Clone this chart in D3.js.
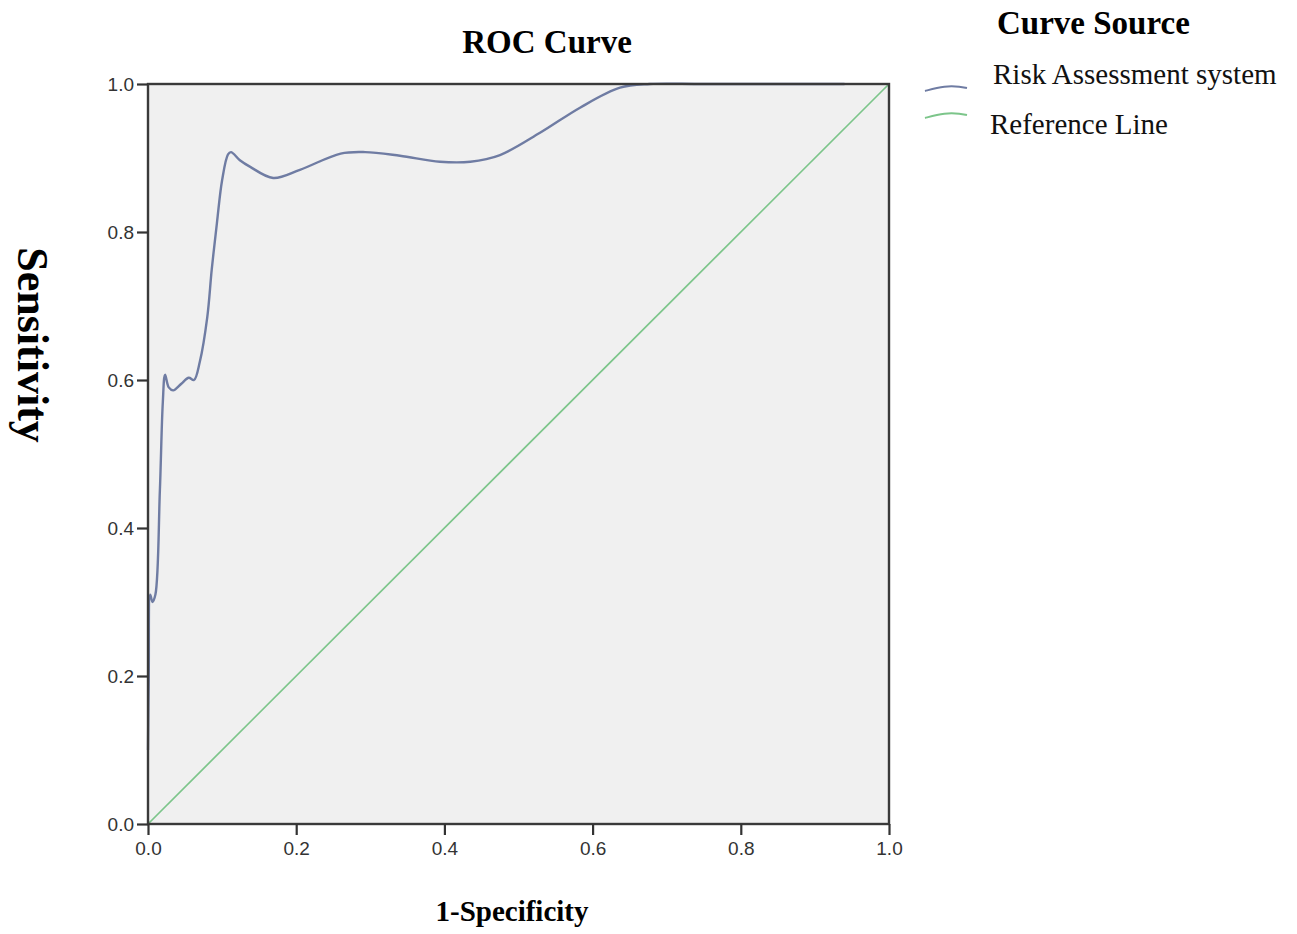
<!DOCTYPE html>
<html>
<head>
<meta charset="utf-8">
<script src="https://cdn.jsdelivr.net/npm/d3@7"></script>
<style>
  body { margin: 0; background: #fff; }
  svg { display: block; }
</style>
</head>
<body>
<svg id="chart" width="1297" height="934"></svg>
<script>
// --- data ---
const fpr = [0, 0.001, 0.003, 0.006, 0.010, 0.016, 0.020, 0.023, 0.028, 0.034, 0.045, 0.055, 0.062, 0.070,
  0.080, 0.086, 0.093, 0.100, 0.108, 0.112, 0.124, 0.138, 0.169, 0.205, 0.26, 0.293, 0.34, 0.394, 0.435,
  0.475, 0.529, 0.583, 0.637, 0.677, 0.75, 0.94];
const tpr = [0.10, 0.20, 0.31, 0.30, 0.31, 0.45, 0.57, 0.607, 0.59, 0.586, 0.595, 0.603, 0.600, 0.625,
  0.685, 0.749, 0.812, 0.87, 0.905, 0.908, 0.897, 0.888, 0.873, 0.884, 0.906, 0.908, 0.903, 0.895, 0.895,
  0.904, 0.934, 0.968, 0.995, 1.0, 1.0, 1.0];
const refX = [0, 1];
const refY = [0, 1];
const tickValues = [0, 0.2, 0.4, 0.6, 0.8, 1.0];
const legendItems = ["Risk Assessment system", "Reference Line"];
const legendColors = ["#6f7ca3", "#7cc58a"];

const svg = d3.select("#chart");
const margin = { left: 148, top: 84 };
const plotW = 741, plotH = 740;

const x = d3.scaleLinear().domain([0, 1]).range([margin.left, margin.left + plotW]);
const y = d3.scaleLinear().domain([0, 1]).range([margin.top + plotH, margin.top]);

// plot background
svg.append("rect")
  .attr("x", x(0)).attr("y", y(1))
  .attr("width", x(1) - x(0)).attr("height", y(0) - y(1))
  .attr("fill", "#f0f0f0");

// reference diagonal
const line = d3.line().x(d => x(d[0])).y(d => y(d[1]));
svg.append("path")
  .datum(d3.zip(refX, refY))
  .attr("d", line)
  .attr("fill", "none")
  .attr("stroke", legendColors[1])
  .attr("stroke-width", 1.7);

// ROC curve (smoothed like the original)
const smooth = d3.line().x(d => x(d[0])).y(d => y(d[1])).curve(d3.curveCatmullRom.alpha(0.5));
svg.append("path")
  .datum(d3.zip(fpr, tpr))
  .attr("d", smooth)
  .attr("fill", "none")
  .attr("stroke", legendColors[0])
  .attr("stroke-width", 2.4);

// frame
svg.append("rect")
  .attr("x", x(0)).attr("y", y(1))
  .attr("width", x(1) - x(0)).attr("height", y(0) - y(1))
  .attr("fill", "none")
  .attr("stroke", "#3a3a3a")
  .attr("stroke-width", 2.4);

// axes
const fmt = d3.format(".1f");
const xAxis = svg.append("g")
  .attr("transform", `translate(0,${y(0)})`)
  .call(d3.axisBottom(x).tickValues(tickValues).tickFormat(fmt).tickSize(11).tickPadding(7));
const yAxis = svg.append("g")
  .attr("transform", `translate(${x(0)},0)`)
  .call(d3.axisLeft(y).tickValues(tickValues).tickFormat(fmt).tickSize(11).tickPadding(3));

[xAxis, yAxis].forEach(g => {
  g.select(".domain").remove();
  g.selectAll(".tick line").attr("stroke", "#333").attr("stroke-width", 2.2);
  g.selectAll(".tick text")
    .attr("fill", "#333")
    .style("font-family", "'Liberation Sans', Arial, sans-serif")
    .style("font-size", "19px");
});

// titles
const serif = "'Liberation Serif', 'Times New Roman', serif";
svg.append("text")
  .attr("x", 547).attr("y", 53)
  .attr("text-anchor", "middle")
  .style("font-family", serif).style("font-weight", "bold").style("font-size", "33px")
  .text("ROC Curve");

svg.append("text")
  .attr("x", 512).attr("y", 921)
  .attr("text-anchor", "middle")
  .style("font-family", serif).style("font-weight", "bold").style("font-size", "29px")
  .text("1-Specificity");

svg.append("text")
  .attr("transform", "translate(18,345) rotate(90)")
  .attr("text-anchor", "middle")
  .style("font-family", serif).style("font-weight", "bold").style("font-size", "44px")
  .text("Sensitivity");

// legend
svg.append("text")
  .attr("x", 997).attr("y", 34)
  .style("font-family", serif).style("font-weight", "bold").style("font-size", "33px")
  .text("Curve Source");

const legend = svg.append("g");
const legendY = [91, 118];
const textX = [993, 990];
const textY = [84, 134];
legendItems.forEach((name, i) => {
  legend.append("path")
    .attr("d", `M925,${legendY[i]} C936,${legendY[i] - 3} 948,${legendY[i] - 7} 967,${legendY[i] - 3}`)
    .attr("fill", "none")
    .attr("stroke", legendColors[i])
    .attr("stroke-width", 2);
  legend.append("text")
    .attr("x", textX[i]).attr("y", textY[i])
    .style("font-family", serif).style("font-size", "29px")
    .attr("fill", "#111")
    .text(name);
});
</script>
</body>
</html>
